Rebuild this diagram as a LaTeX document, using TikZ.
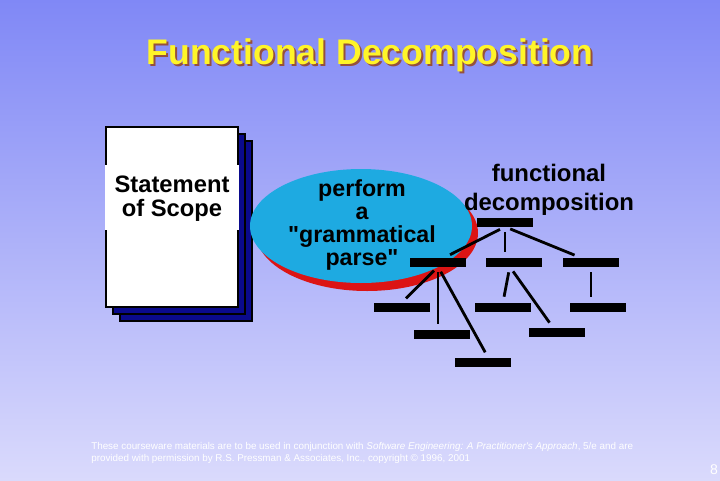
\documentclass[tikz,border=0pt]{standalone}
\usepackage{fontspec}
\setmainfont{Liberation Sans}[Ligatures=TeXOff]
\usetikzlibrary{positioning}
\definecolor{bgtop}{RGB}{128,136,246}
\definecolor{bgbot}{RGB}{218,218,252}
\definecolor{titleyel}{RGB}{255,245,40}
\definecolor{titleshd}{RGB}{150,80,60}
\definecolor{ovalblue}{RGB}{30,170,225}
\definecolor{ovalred}{RGB}{220,20,20}
\definecolor{pagenavy}{RGB}{10,10,140}
\definecolor{foottext}{RGB}{255,255,255}
\tikzset{
  bar/.style={fill=black,minimum width=40.4pt,minimum height=6.4pt,inner sep=0pt},
  branch/.style={line width=2pt,shorten <=4,shorten >=4},
  bigtext/.style={font=\bfseries\fontsize{16.5}{16.3}\selectfont,align=center,inner sep=0pt}
}
\begin{document}
\begin{tikzpicture}[x=0.025cm,y=-0.025cm]
\useasboundingbox (0,0) rectangle (720,480);
\shade[top color=bgtop,bottom color=bgbot] (0,0) rectangle (720,480);
% title
\node[text=titleshd,font=\bfseries\fontsize{25.3}{28}\selectfont] at (372,57) {Functional Decomposition};
\node[text=titleyel,font=\bfseries\fontsize{25.3}{28}\selectfont] (title) at (370,55) {Functional Decomposition};
% statement of scope, a stack of pages
\draw[fill=pagenavy,line width=1.2pt] (120,141) rectangle (252,321);
\draw[fill=pagenavy,line width=1.2pt] (113,134) rectangle (245,314);
\draw[fill=white,line width=1.5pt] (106,127) rectangle (238,307);
\fill[white] (105,165) rectangle (239,230);
\node[bigtext,font=\bfseries\fontsize{16.9}{17}\selectfont] (scope) at (172,199) {Statement\\of Scope};
% the parse
\fill[ovalred] (367,233) ellipse (111 and 58);
\fill[ovalblue] (361,226) ellipse (111 and 57);
\node[bigtext] (parse) at (362,225) {perform\\a\\"grammatical\\parse"};
\node[bigtext,font=\bfseries\fontsize{17}{20.5}\selectfont] (fdlabel) at (549,190) {functional\\decomposition};
% tree
\node[bar] (root) at (505,222) {};
\node[bar] (a) at (438,262) {};
\node[bar] (b) at (514,262) {};
\node[bar] (c) at (591,262) {};
\node[bar] (a1) at (402,307) {};
\node[bar] (a2) at (442,334) {};
\node[bar] (a3) at (483,362) {};
\node[bar] (b1) at (503,307) {};
\node[bar] (b2) at (557,332) {};
\node[bar] (c1) at (598,307) {};
\draw[branch] (root.south) -- ([xshift=5pt]a.north);
\draw[branch] (root.south) -- (root.south |- b.north);
\draw[branch] (root.south) -- ([xshift=-8pt]c.north);
\draw[branch] (a.south) -- (a1.north);
\draw[branch] (a.south) -- (a.south |- a2.north);
\draw[branch] (a.south) -- ([xshift=3.5pt]a3.north);
\draw[branch] ([xshift=-3pt]b.south) -- (b1.north);
\draw[branch] ([xshift=-3pt]b.south) -- ([xshift=-3pt]b2.north);
\draw[branch] (c.south) -- (c.south |- c1.north);
% footer
\node[text=foottext,font=\fontsize{7}{8.5}\selectfont,align=left,anchor=north west,inner sep=0pt] (foot) at (91,442)
  {These courseware materials are to be used in conjunction with \textit{Software Engineering: A Practitioner's Approach}, 5/e and are\\
   provided with permission by R.S. Pressman \& Associates, Inc., copyright \textcopyright{} 1996, 2001};
\node[text=foottext,font=\fontsize{10}{11}\selectfont] (pagenum) at (714,470) {8};
\end{tikzpicture}
\end{document}
